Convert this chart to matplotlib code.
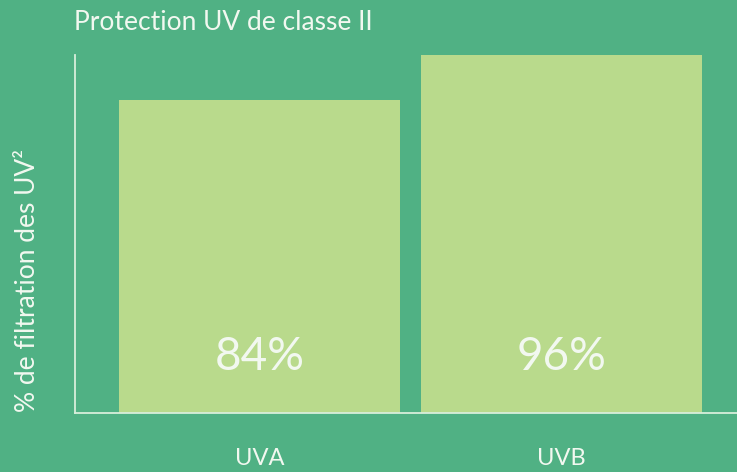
import matplotlib.pyplot as plt

# donnees
categories = ["UVA", "UVB"]
valeurs = [84, 96]
etiquettes = ["84%", "96%"]

fond = "#50b184"
barre = "#b9da8c"
texte = "#f2f8f0"

plt.rcParams['font.family'] = ['Lato', 'DejaVu Sans']

fig = plt.figure(figsize=(7.37, 4.72), dpi=100, facecolor=fond)
ax = fig.add_axes([0.1018, 0.125, 0.898, 0.7585], facecolor=fond)

x = range(len(categories))
ax.bar(x, valeurs, width=0.93, color=barre)

# valeurs dans les barres
for i, lab in enumerate(etiquettes):
    ax.text(i, 15, lab, ha='center', va='center', color=texte, fontsize=33)

ax.set_xlim(-0.611, 1.581)
ax.set_ylim(0, 96)
ax.set_xticks(list(x))
ax.set_xticklabels(categories, color=texte, fontsize=17)
ax.tick_params(axis='x', length=0, pad=25)
ax.set_yticks([])

for s in ['top', 'right']:
    ax.spines[s].set_visible(False)
for s in ['left', 'bottom']:
    ax.spines[s].set_color("#d8eedb")
    ax.spines[s].set_linewidth(1.3)

ax.set_ylabel("% de filtration des UV²", color=texte, fontsize=19)
ax.yaxis.set_label_coords(-0.053, 0.37)
fig.text(0.1, 0.953, "Protection UV de classe II", color=texte, fontsize=19, va='center', ha='left')

plt.savefig("out.png", dpi=100, facecolor=fond)
